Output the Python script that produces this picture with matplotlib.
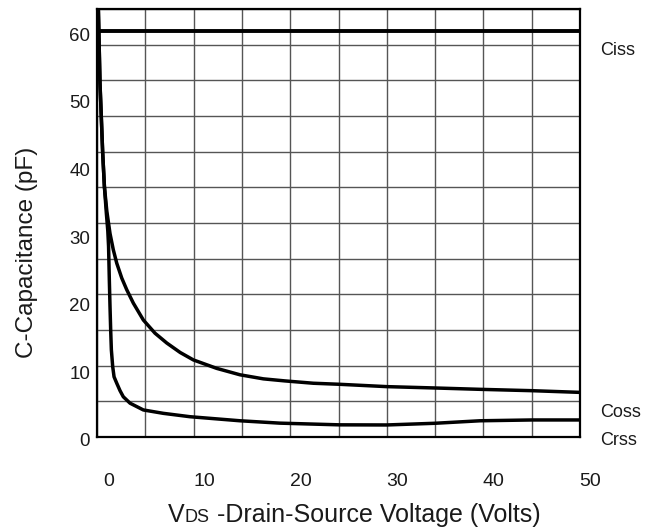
import numpy as np
import matplotlib.pyplot as plt
import matplotlib.transforms as mtransforms

plt.rcParams['font.family'] = ['Liberation Sans', 'DejaVu Sans']

# values (VDS in volts, C in pF)
vds_ciss = [-1.17, 48.95]
ciss = [60.0, 60.0]

vds_coss = [-1.03, -0.86, -0.72, -0.58, -0.4, -0.15, 0.18, 0.52, 0.88, 1.40,
            1.91, 2.60, 3.64, 4.85, 6.07, 7.46, 8.83, 11.25, 13.67, 16.09,
            18.3, 21.28, 23.94, 28.89, 33.9, 38.58, 43.97, 48.95]
coss = [63.3, 52.3, 47.2, 42.0, 37.0, 33.4, 30.1, 27.7, 25.7, 23.5,
        21.8, 19.8, 17.3, 15.35, 13.9, 12.5, 11.4, 10.15, 9.2, 8.6,
        8.3, 7.95, 7.8, 7.45, 7.25, 7.05, 6.85, 6.6]

vds_crss = [-1.03, -0.86, -0.72, -0.58, -0.4, -0.2, -0.05, 0.03, 0.11, 0.18,
            0.25, 0.32, 0.46, 0.60, 0.88, 1.22, 1.56, 2.26, 3.64, 5.71,
            8.48, 13.67, 17.8, 23.94, 28.89, 33.9, 38.58, 43.97, 48.95]
crss = [63.3, 52.3, 47.2, 42.0, 37.0, 33.1, 30.5, 28.2, 23.2, 19.3,
        15.8, 12.9, 10.4, 8.9, 7.95, 6.85, 5.95, 5.0, 4.0, 3.5,
        3.0, 2.4, 2.05, 1.8, 1.78, 2.03, 2.4, 2.52, 2.52]

x_ticks = [0, 10, 20, 30, 40, 50]
y_ticks = [0, 10, 20, 30, 40, 50, 60]

#%% figure
fig = plt.figure(figsize=(6.48, 5.29), dpi=100)
ax = fig.add_axes([97/648, 1-437/529, 483/648, 428/529])

xlim = (-1.17, 48.95)
ylim = (0, 63.3)
ax.set_xlim(xlim)
ax.set_ylim(ylim)

# the grid of the original is not aligned with the labels
ax.set_xticks(np.linspace(xlim[0], xlim[1], 11))
ax.set_yticks(np.linspace(ylim[0], ylim[1], 13))
ax.set_xticklabels([])
ax.set_yticklabels([])
ax.tick_params(length=0)
ax.grid(True, color='#555555', lw=1.0)
ax.set_axisbelow(True)
for sp in ax.spines.values():
    sp.set_linewidth(1.6)
    sp.set_color('black')

ax.plot(vds_ciss, ciss, color='black', lw=2.8, solid_capstyle='butt')
ax.plot(vds_coss, coss, color='black', lw=2.5, solid_joinstyle='round')
ax.plot(vds_crss, crss, color='black', lw=2.5, solid_joinstyle='round')

txt_c = '#1a1a1a'

# tick labels as text
tr_y = mtransforms.blended_transform_factory(ax.transAxes, ax.transData)
off = mtransforms.ScaledTranslation(0, -5/100, fig.dpi_scale_trans)
for v in y_ticks:
    ax.text(-0.014, v, str(v), transform=tr_y + off, ha='right', va='center',
            fontsize=13.5, color=txt_c)

tr_x = mtransforms.blended_transform_factory(ax.transData, ax.transAxes)
for v in x_ticks:
    ax.text(v, -0.103, str(v), transform=tr_x, ha='center', va='center',
            fontsize=14, color=txt_c)

# axis titles
fig.text(27/648, 1-252/529, 'C-Capacitance (pF)', rotation=90,
         ha='center', va='center', fontsize=17.5, color=txt_c)

# V + small caps DS, same baseline
pix = mtransforms.IdentityTransform()
H = 529
base = H - 522
x0 = 168
fig.canvas.draw()
r = fig.canvas.get_renderer()
for s, fs in [('V', 18), ('DS', 13), (' -Drain-Source Voltage (Volts)', 18)]:
    t = fig.text(x0, base, s, transform=pix, ha='left', va='baseline',
                 fontsize=fs, color=txt_c)
    x0 = t.get_window_extent(r).x1

# curve names
for name, ybase in [('Ciss', 55), ('Coss', 417), ('Crss', 445)]:
    fig.text(600/648, 1-ybase/529, name, ha='left', va='baseline',
             fontsize=13, color=txt_c)

plt.savefig('out.png', dpi=100)
